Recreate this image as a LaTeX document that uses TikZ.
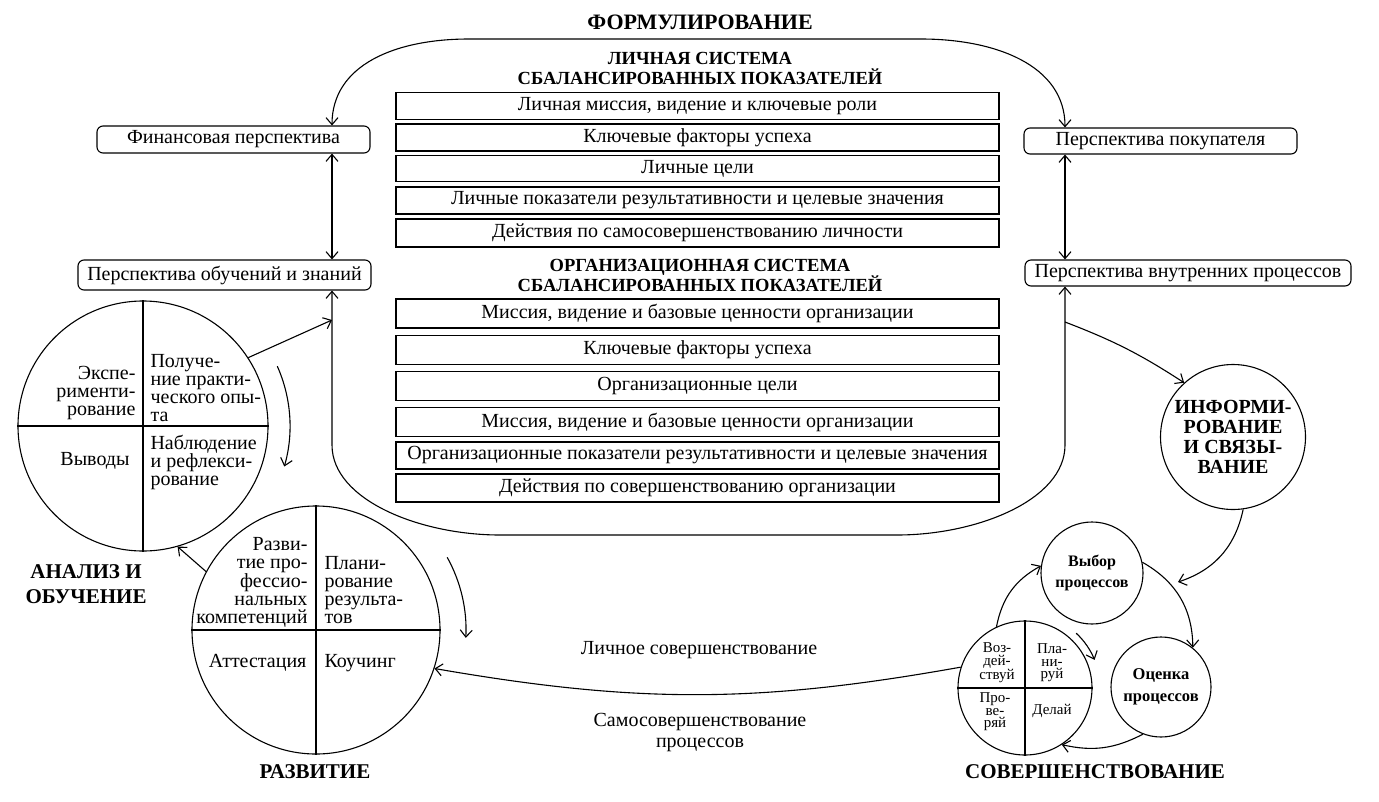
\documentclass[tikz,border=0pt]{standalone}
\usepackage{fontspec}
\setmainfont{Liberation Serif}
\usetikzlibrary{arrows.meta}

\tikzset{
  >={Straight Barb[length=7pt,width=12pt]},
  pbox/.style={draw, rounded corners=6pt, inner sep=0pt, font=\fontsize{20}{20}\selectfont},
  row/.style={draw, line width=1.3pt, minimum width=603pt, inner sep=0pt, font=\fontsize{20}{20}\selectfont},
  head/.style={align=center, font=\bfseries\fontsize{18.5}{20}\selectfont},
  stage/.style={align=center, font=\bfseries\fontsize{21}{25}\selectfont},
  ring/.style={draw, circle, inner sep=0pt},
  quad/.style={inner sep=0pt, font=\fontsize{20}{18}\selectfont},
  pdcatext/.style={inner sep=0pt, align=center, font=\fontsize{15}{12.5}\selectfont},
  lbl/.style={align=center, font=\fontsize{20}{21}\selectfont},
}

\begin{document}
\begin{tikzpicture}[x=1pt, y=1pt, line width=1.1pt]
  \useasboundingbox (0,0) rectangle (1379,-801);

  % Formulation
  \node[stage, font=\bfseries\fontsize{22}{25}\selectfont] (form) at (700,-22) {ФОРМУЛИРОВАНИЕ};

  % Personal scorecard
  \node[head] (phead) at (700,-68) {ЛИЧНАЯ СИСТЕМА\\СБАЛАНСИРОВАННЫХ ПОКАЗАТЕЛЕЙ};
  \node[row, minimum height=27pt] (pers1) at (697.5,-106) {Личная миссия, видение и ключевые роли};
  \node[row, minimum height=27pt] (pers2) at (697.5,-137.5) {Ключевые факторы успеха};
  \node[row, minimum height=26pt] (pers3) at (697.5,-168.5) {Личные цели};
  \node[row, minimum height=27pt] (pers4) at (697.5,-200.5) {Личные показатели результативности и целевые значения};
  \node[row, minimum height=28pt] (pers5) at (697.5,-233) {Действия по самосовершенствованию личности};

  % Organizational scorecard
  \node[head] (ohead) at (700,-275) {ОРГАНИЗАЦИОННАЯ СИСТЕМА\\СБАЛАНСИРОВАННЫХ ПОКАЗАТЕЛЕЙ};
  \node[row, minimum height=29pt] (org1) at (697.5,-313.5) {Миссия, видение и базовые ценности организации};
  \node[row, minimum height=29pt] (org2) at (697.5,-350) {Ключевые факторы успеха};
  \node[row, minimum height=29pt] (org3) at (697.5,-386) {Организационные цели};
  \node[row, minimum height=29pt] (org4) at (697.5,-422) {Миссия, видение и базовые ценности организации};
  \node[row, minimum height=27pt] (org5) at (697.5,-455.5) {Организационные показатели результативности и целевые значения};
  \node[row, minimum height=28pt] (org6) at (697.5,-488) {Действия по совершенствованию организации};

  % Perspectives
  \node[pbox, minimum width=273pt, minimum height=27pt] (fin) at (233.5,-139.5) {Финансовая перспектива};
  \node[pbox, minimum width=293pt, minimum height=30pt] (lrn) at (224.5,-275) {Перспектива обучений и знаний};
  \node[pbox, minimum width=273pt, minimum height=26pt] (cus) at (1160.5,-141) {Перспектива покупателя};
  \node[pbox, minimum width=326pt, minimum height=26pt] (int) at (1188,-273) {Перспектива внутренних процессов};
  \coordinate (lj) at (332,-320);
  \coordinate (rj) at (1065,-322);

  % Loops round the scorecards
  \draw[<->] (fin.north -| lj) .. controls (332,-65) and (395,-39) .. (469,-39)
    -- (921,-39) .. controls (995,-39) and (1065,-65) .. (cus.north -| rj);
  \draw[<->] (fin.south -| lj) -- (lrn.north -| lj);
  \draw[<->] (cus.south -| rj) -- (int.north -| rj);
  \draw[<->] (lrn.south -| lj) -- (332,-445) .. controls (332,-500) and (420,-535) .. (500,-535)
    -- (897,-535) .. controls (977,-535) and (1065,-500) .. (1065,-445) -- (int.south -| rj);

  % Analysis and learning
  \node[ring, minimum size=250pt] (ana) at (143,-426) {};
  \draw (ana.north) -- (ana.south);
  \draw (ana.west) -- (ana.east);
  \node[quad, align=right, anchor=east] (exp) at (136,-393) {Экспе-\\рименти-\\рование};
  \node[quad, align=left, anchor=west] (prac) at (150,-388) {Получе-\\ние практи-\\ческого опы-\\та};
  \node[quad] (concl) at (95,-461) {Выводы};
  \node[quad, align=left, anchor=west] (obs) at (150,-462) {Наблюдение\\и рефлекси-\\рование};
  \draw[->] ([shift={(24:147)}]ana.center) arc[start angle=24, end angle=-16, radius=147];
  \draw[->] (ana.33) -- (lj);
  \node[stage] (anat) at (86,-584) {АНАЛИЗ И\\ОБУЧЕНИЕ};

  % Development
  \node[ring, minimum size=248pt] (dev) at (316,-630) {};
  \draw (dev.north) -- (dev.south);
  \draw (dev.west) -- (dev.east);
  \node[quad, align=right, anchor=east] (comp) at (308,-582) {Разви-\\тие про-\\фессио-\\нальных\\компетенций};
  \node[quad, align=left, anchor=west] (plan) at (324,-590) {Плани-\\рование\\результа-\\тов};
  \node[quad, anchor=east] (att) at (307,-663) {Аттестация};
  \node[quad, anchor=west] (coach) at (324,-663) {Коучинг};
  \draw[->] ([shift={(29:150)}]dev.center) arc[start angle=29, end angle=-3, radius=150];
  \draw[->] (dev.152) -- (ana.-74);
  \node[stage] (devt) at (315,-772) {РАЗВИТИЕ};

  % Informing and linking
  \node[ring, minimum size=145pt, align=center, font=\bfseries\fontsize{20}{20}\selectfont] (inf) at (1233,-437)
    {ИНФОРМИ-\\РОВАНИЕ\\И СВЯЗЫ-\\ВАНИЕ};
  \draw[->] (rj) to[bend left=6] (inf.132);

  % Improvement
  \node[ring, minimum size=102pt, align=center, font=\bfseries\fontsize{16}{21}\selectfont] (vyb) at (1092,-573) {Выбор\\процессов};
  \node[ring, minimum size=100pt, align=center, font=\bfseries\fontsize{16.5}{22}\selectfont] (ocn) at (1161,-687) {Оценка\\процессов};
  \node[ring, minimum size=134pt] (pdca) at (1025,-688) {};
  \draw (pdca.north) -- (pdca.south);
  \draw (pdca.west) -- (pdca.east);
  \node[pdcatext] (act) at (997,-663) {Воз-\\дей-\\ствуй};
  \node[pdcatext] (pln) at (1052,-663) {Пла-\\ни-\\руй};
  \node[pdcatext] (chk) at (995,-712) {Про-\\ве-\\ряй};
  \node[pdcatext] (do) at (1052,-711) {Делай};
  \draw[->] ([shift={(47:75)}]pdca.center) arc[start angle=47, end angle=22, radius=75];
  \draw[->] (pdca.115) to[bend left=25] (vyb.172);
  \draw[->] (vyb.12) to[bend left=30] (ocn.51);
  \draw[->] (ocn.-111) to[bend left=20] (pdca.-57);
  \coordinate (cyc) at (1178,-582);
  \draw[->] (inf.-82) to[bend left=30] (cyc);
  \node[stage] (impt) at (1095,-772) {СОВЕРШЕНСТВОВАНИЕ};

  % Personal improvement
  \draw[->] (pdca.162) to[bend left=10] (dev.-18);
  \node[lbl] (persimp) at (699,-650) {Личное совершенствование};
  \node[lbl] (procimp) at (700,-732) {Самосовершенствование\\процессов};
\end{tikzpicture}
\end{document}
